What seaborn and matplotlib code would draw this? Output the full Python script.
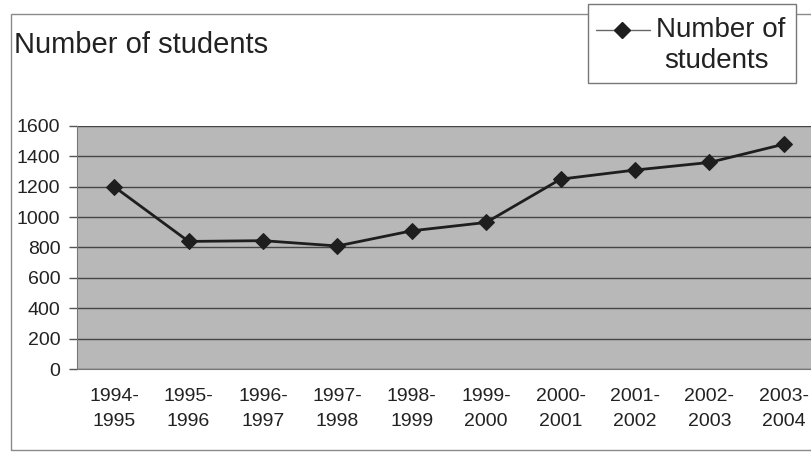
import numpy as np
import pandas as pd
import matplotlib
matplotlib.use("Agg")
import matplotlib.pyplot as plt
import seaborn as sns
from matplotlib.patches import Rectangle
from matplotlib.lines import Line2D

# data
years = ["1994-\n1995", "1995-\n1996", "1996-\n1997", "1997-\n1998", "1998-\n1999",
         "1999-\n2000", "2000-\n2001", "2001-\n2002", "2002-\n2003", "2003-\n2004"]
students = [1200, 840, 845, 810, 910, 965, 1250, 1310, 1360, 1480]
y_ticks = [0, 200, 400, 600, 800, 1000, 1200, 1400, 1600]

df = pd.DataFrame({"year": years, "students": students})

sns.set_style("white")
plt.rcParams["font.family"] = ["Liberation Sans", "DejaVu Sans"]

fig = plt.figure(figsize=(8.12, 4.54), dpi=100)
ax = fig.add_axes([77 / 812, 1 - 369 / 454, 744 / 812, 243 / 454])

ax.set_facecolor("#b8b8b8")
sns.lineplot(data=df, x="year", y="students", ax=ax, color="#1e1e1e", linewidth=2,
             marker="D", markersize=8, markeredgecolor="#1e1e1e", sort=False)

ax.set_xlim(-0.5, len(years) - 0.5)
ax.set_ylim(0, 1600)
ax.set_yticks(y_ticks)
ax.yaxis.grid(True, color="#454545", linewidth=1)
ax.set_axisbelow(True)
ax.set_xlabel("")
ax.set_ylabel("")

# category labels centered, tick marks at category boundaries
ax.set_xticks(range(len(years)))
ax.set_xticklabels(years, fontsize=14, color="#222222", linespacing=1.55)
ax.set_xticks(np.arange(-0.5, len(years), 1), minor=True)
ax.tick_params(axis="x", which="major", length=0, pad=14)
ax.tick_params(axis="x", which="minor", length=6, width=1, color="#555555", direction="out")
ax.tick_params(axis="y", length=6, width=1, color="#555555", direction="out",
               labelsize=14, labelcolor="#222222", pad=6, left=True)

for side in ["top", "right"]:
    ax.spines[side].set_visible(False)
ax.spines["left"].set_color("#777777")
ax.spines["bottom"].set_color("#777777")

# outer chart border
fig.patches.append(Rectangle((11 / 812, 1 - 450 / 454), 810 / 812, 436 / 454,
                             transform=fig.transFigure, fill=False,
                             edgecolor="#8a8a8a", linewidth=1))

# title
fig.text(14 / 812, 1 - 45 / 454, "Number of students", fontsize=21,
         color="#222222", va="center", ha="left")

# legend box
fig.patches.append(Rectangle((588 / 812, 1 - 83 / 454), 208 / 812, 79 / 454,
                             transform=fig.transFigure, facecolor="white",
                             edgecolor="#777777", linewidth=1))
fig.lines.append(Line2D([596 / 812, 650 / 812], [1 - 30 / 454, 1 - 30 / 454],
                        transform=fig.transFigure, color="#666666", linewidth=1))
fig.lines.append(Line2D([622 / 812], [1 - 30 / 454], transform=fig.transFigure,
                        marker="D", markersize=8, color="#1e1e1e"))
fig.text(656 / 812, 1 - 30 / 454, "Number of", fontsize=20, color="#222222",
         va="center", ha="left")
fig.text(716 / 812, 1 - 61 / 454, "students", fontsize=20, color="#222222",
         va="center", ha="center")

fig.savefig("out.png", dpi=100)
